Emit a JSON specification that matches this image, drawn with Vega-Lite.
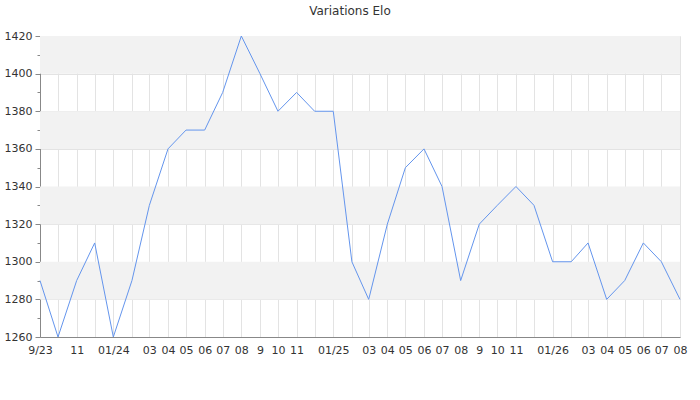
{
  "$schema": "https://vega.github.io/schema/vega-lite/v6.json",
  "width": 640,
  "height": 301,
  "autosize": {"type": "none"},
  "padding": {"left": 40, "top": 36, "right": 20, "bottom": 63},
  "background": "white",
  "title": {"text": "Variations Elo", "font": "DejaVu Sans", "fontSize": 12, "fontWeight": "normal", "color": "#333333", "anchor": "middle", "dx": -10, "offset": 12},
  "config": {"view": {"stroke": null}, "font": "DejaVu Sans"},
  "datasets": {
    "elo": [
      {"month": "2023-09-01T00:00:00", "elo": 1290},
      {"month": "2023-10-01T00:00:00", "elo": 1260},
      {"month": "2023-11-01T00:00:00", "elo": 1290},
      {"month": "2023-12-01T00:00:00", "elo": 1310},
      {"month": "2024-01-01T00:00:00", "elo": 1260},
      {"month": "2024-02-01T00:00:00", "elo": 1290},
      {"month": "2024-03-01T00:00:00", "elo": 1330},
      {"month": "2024-04-01T00:00:00", "elo": 1360},
      {"month": "2024-05-01T00:00:00", "elo": 1370},
      {"month": "2024-06-01T00:00:00", "elo": 1370},
      {"month": "2024-07-01T00:00:00", "elo": 1390},
      {"month": "2024-08-01T00:00:00", "elo": 1420},
      {"month": "2024-09-01T00:00:00", "elo": 1400},
      {"month": "2024-10-01T00:00:00", "elo": 1380},
      {"month": "2024-11-01T00:00:00", "elo": 1390},
      {"month": "2024-12-01T00:00:00", "elo": 1380},
      {"month": "2025-01-01T00:00:00", "elo": 1380},
      {"month": "2025-02-01T00:00:00", "elo": 1300},
      {"month": "2025-03-01T00:00:00", "elo": 1280},
      {"month": "2025-04-01T00:00:00", "elo": 1320},
      {"month": "2025-05-01T00:00:00", "elo": 1350},
      {"month": "2025-06-01T00:00:00", "elo": 1360},
      {"month": "2025-07-01T00:00:00", "elo": 1340},
      {"month": "2025-08-01T00:00:00", "elo": 1290},
      {"month": "2025-09-01T00:00:00", "elo": 1320},
      {"month": "2025-10-01T00:00:00", "elo": 1330},
      {"month": "2025-11-01T00:00:00", "elo": 1340},
      {"month": "2025-12-01T00:00:00", "elo": 1330},
      {"month": "2026-01-01T00:00:00", "elo": 1300},
      {"month": "2026-02-01T00:00:00", "elo": 1300},
      {"month": "2026-03-01T00:00:00", "elo": 1310},
      {"month": "2026-04-01T00:00:00", "elo": 1280},
      {"month": "2026-05-01T00:00:00", "elo": 1290},
      {"month": "2026-06-01T00:00:00", "elo": 1310},
      {"month": "2026-07-01T00:00:00", "elo": 1300},
      {"month": "2026-08-01T00:00:00", "elo": 1280}
    ],
    "bands": [
      {"lo": 1280, "hi": 1300},
      {"lo": 1320, "hi": 1340},
      {"lo": 1360, "hi": 1380},
      {"lo": 1400, "hi": 1420}
    ]
  },
  "layer": [
    {
      "data": {"name": "bands"},
      "mark": {"type": "rect", "color": "#f2f2f2"},
      "encoding": {
        "y": {
          "field": "lo", "type": "quantitative", "title": null,
          "scale": {"domain": [1260, 1420], "nice": false, "zero": false},
          "axis": {
            "values": [1260, 1270, 1280, 1290, 1300, 1310, 1320, 1330, 1340, 1350, 1360, 1370, 1380, 1390, 1400, 1410, 1420],
            "labelExpr": "datum.value % 20 == 0 ? datum.label : ''",
            "format": "d",
            "labelFont": "DejaVu Sans",
            "labelFontSize": 11,
            "labelColor": "#333333",
            "labelPadding": 3,
            "labelOverlap": false,
            "tickColor": "#888888",
            "tickSize": {"condition": {"test": "datum.value % 20 == 0", "value": 5}, "value": 3},
            "grid": true,
            "gridColor": "#e3e3e3",
            "gridOpacity": {"condition": {"test": "datum.value % 20 == 0", "value": 1}, "value": 0},
            "domainColor": "#888888",
            "zindex": 0
          }
        },
        "y2": {"field": "hi"}
      }
    },
    {
      "data": {"name": "elo"},
      "mark": {"type": "line", "color": "#6495ed", "strokeWidth": 1},
      "encoding": {
        "x": {
          "field": "month", "type": "temporal", "title": null,
          "scale": {"nice": false},
          "axis": {
            "tickCount": {"interval": "month", "step": 1},
            "labelExpr": "(year(datum.value)==2023 && month(datum.value)==8) ? '9/23' : month(datum.value)==0 ? timeFormat(datum.value, '%m/%y') : (month(datum.value)==1 || month(datum.value)==11 || (year(datum.value)==2023 && month(datum.value)==9)) ? '' : month(datum.value) >= 8 ? '' + (month(datum.value) + 1) : timeFormat(datum.value, '%m')",
            "labelOverlap": false,
            "labelFlush": false,
            "labelFont": "DejaVu Sans",
            "labelFontSize": 11,
            "labelColor": "#333333",
            "labelPadding": 7,
            "ticks": false,
            "grid": true,
            "gridColor": "#e3e3e3",
            "gridOpacity": 1,
            "domainColor": "#888888",
            "zindex": 0
          }
        },
        "y": {
          "field": "elo", "type": "quantitative", "title": null,
          "scale": {"domain": [1260, 1420], "nice": false, "zero": false},
          "axis": {
            "values": [1260, 1270, 1280, 1290, 1300, 1310, 1320, 1330, 1340, 1350, 1360, 1370, 1380, 1390, 1400, 1410, 1420],
            "labelExpr": "datum.value % 20 == 0 ? datum.label : ''",
            "format": "d",
            "labelFont": "DejaVu Sans",
            "labelFontSize": 11,
            "labelColor": "#333333",
            "labelPadding": 3,
            "labelOverlap": false,
            "tickColor": "#888888",
            "tickSize": {"condition": {"test": "datum.value % 20 == 0", "value": 5}, "value": 3},
            "grid": true,
            "gridColor": "#e3e3e3",
            "gridOpacity": {"condition": {"test": "datum.value % 20 == 0", "value": 1}, "value": 0},
            "domainColor": "#888888",
            "zindex": 0
          }
        }
      }
    }
  ]
}
